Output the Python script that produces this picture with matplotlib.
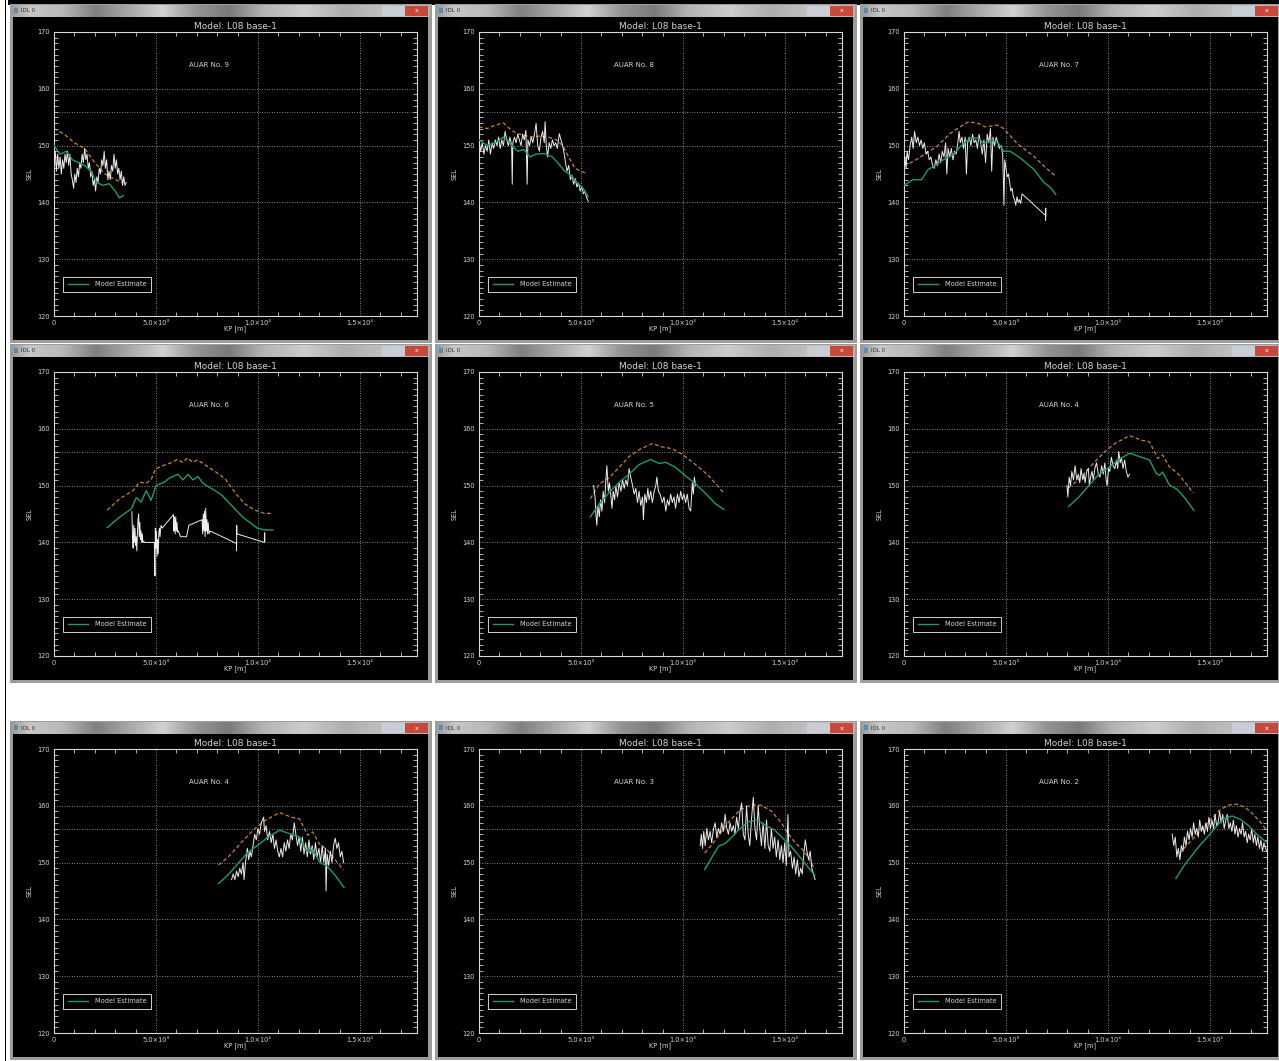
import matplotlib.pyplot as plt
import numpy as np
from matplotlib.patches import Rectangle
from matplotlib.lines import Line2D
from matplotlib.ticker import FixedLocator, FixedFormatter, MultipleLocator

W, H = 1279, 1061

TITLE = "Model: L08 base-1"
WINDOW_NAME = "IDL 0"
X_TICKS = [0, 5000, 10000, 15000]
X_TICK_LABELS = ["0", "5.0×10³", "1.0×10⁴", "1.5×10⁴"]
Y_TICKS = [120, 130, 140, 150, 160, 170]
X_MAX = 17800
REF_LEVEL = 156

# ---- AUAR No. 9 ----
a9_x = [0, 60, 120, 180, 240, 300, 360, 420, 480, 540, 600, 660, 720, 780, 840, 900, 960, 1020,
        1080, 1140, 1200, 1260, 1320, 1380, 1440, 1500, 1560, 1620, 1680, 1740, 1800, 1860, 1920,
        1980, 2040, 2100, 2160, 2220, 2280, 2340, 2400, 2460, 2520, 2580, 2640, 2700, 2760, 2820,
        2880, 2940, 3000, 3060, 3120, 3180, 3240, 3300, 3360, 3420, 3480, 3540]
a9_y = [147, 149, 145.5, 148.5, 146, 148, 145, 147.5, 146, 148.5, 147, 149, 146.5, 148.5, 145, 144,
        142.5, 145, 143.5, 146, 144.5, 147, 146, 148.5, 147, 149.5, 147.5, 148.5, 146, 147, 144.5,
        145.5, 143, 144, 142, 144.5, 143.5, 146, 145, 147.5, 146.5, 149, 146, 147.5, 144, 145.5,
        144, 146.5, 145.5, 148.5, 146, 147.5, 145, 146, 144, 145.5, 143, 144.5, 143, 143.5]
a9_gx = [0, 300, 600, 900, 1200, 1500, 1800, 2100, 2400, 2700, 3000, 3200, 3400]
a9_gy = [150, 148.5, 149, 147.5, 147, 146.5, 145.5, 143.5, 143, 143.3, 142, 140.8, 141.2]
a9_ox = [0, 500, 1000, 1500, 2000, 2500, 3000, 3400]
a9_oy = [153, 152, 150.5, 149.5, 147, 145, 144, 143.5]

# ---- AUAR No. 8 ----
a8_x = [0, 80, 160, 240, 320, 400, 480, 560, 640, 720, 800, 880, 960, 1040, 1120, 1200, 1280, 1360,
        1440, 1520, 1600, 1630, 1660, 1740, 1820, 1900, 1980, 2060, 2140, 2220, 2300, 2360, 2400,
        2480, 2560, 2640, 2720, 2800, 2880, 2960, 3040, 3120, 3200, 3240, 3300, 3360, 3440, 3520,
        3600, 3680, 3760, 3840, 3940, 4020, 4100, 4180, 4240, 4320, 4400, 4480, 4560, 4640, 4720,
        4800, 4880, 4960, 5040, 5120, 5200, 5280, 5360]
a8_y = [151, 149, 150.5, 148.5, 150, 149, 151, 148.5, 150.5, 149.5, 151, 150, 151.5, 149.5, 151, 150,
        152.5, 151, 150, 151.5, 150, 143.2, 150.5, 151.5, 150.5, 152, 151, 150, 152, 151, 152.7, 143.2,
        151, 150, 151.5, 150.5, 152, 153.9, 150, 149, 151.5, 152.5, 150.5, 154.2, 150, 148, 150.5,
        149.5, 151, 150, 150.5, 149.5, 152.1, 151, 150, 148.5, 147, 145.5, 146.5, 144, 144.8, 143.2,
        144.2, 142.7, 143.4, 142, 142.8, 141.5, 142, 140.8, 140.2]
a8_gx = [0, 400, 800, 1200, 1400, 1600, 1900, 2200, 2500, 2800, 3200, 3600, 3900, 4200, 4500, 4800,
         5100, 5350]
a8_gy = [151, 150, 150.5, 151.5, 151, 150, 149, 149.3, 148, 148.5, 148.6, 148, 146.8, 145.5, 144.8,
         143.5, 142.5, 141]
a8_ox = [0, 400, 800, 1200, 1500, 1800, 2200, 2600, 3000, 3400, 3800, 4100, 4400, 4700, 5000, 5200]
a8_oy = [153.3, 153, 153.6, 154, 153, 152.2, 151.8, 151.5, 151.7, 151.5, 151, 150, 148, 146, 145.5,
         145.2]

# ---- AUAR No. 7 ----
a7_x = [0, 50, 100, 150, 220, 300, 380, 450, 520, 600, 680, 760, 840, 920, 1000, 1080, 1160, 1240,
        1320, 1400, 1480, 1560, 1640, 1720, 1800, 1880, 1960, 2040, 2100, 2160, 2240, 2320, 2400,
        2480, 2560, 2640, 2700, 2760, 2840, 2920, 3000, 3060, 3120, 3200, 3280, 3360, 3440, 3520,
        3600, 3680, 3760, 3840, 3920, 4000, 4080, 4160, 4240, 4300, 4360, 4440, 4520, 4600, 4680,
        4760, 4840, 4900, 4940, 5000, 5060, 5120, 5180, 5240, 5300, 5360, 5420, 5480, 5540, 5600,
        5660, 5720, 5790, 6940, 6940, 6950, 6950]
a7_y = [146.5, 148, 146, 149, 147.5, 150, 151.5, 149.5, 152.5, 150.5, 151.5, 150, 151, 149.5, 150.5,
        148.5, 149, 147.5, 148, 146.5, 146, 147.5, 146.5, 148.5, 147, 149, 148, 150.5, 145, 149.5,
        148, 149.5, 147.5, 149, 148.5, 150.5, 152.5, 150.5, 151.5, 149.5, 151.5, 145, 150.5, 151.5,
        150, 152, 150.5, 151, 149.5, 152, 150.5, 148.5, 151, 147, 152, 150.5, 153, 145.5, 151.5, 150,
        151.5, 150.5, 149.5, 150, 148.5, 139.5, 147.5, 146, 144.5, 145, 143.5, 142, 142.5, 141, 140.5,
        139.5, 141, 140, 140.5, 139.8, 141.5, 137.7, 136.8, 139, 137.5]
a7_gx = [0, 440, 860, 1180, 1510, 1920, 2420, 2750, 3240, 3650, 3900, 4310, 4640, 4890, 5210, 5710,
         6370, 6860, 7190, 7440]
a7_gy = [143, 144, 144, 145.8, 146.4, 147.5, 148.4, 149.8, 151.3, 151.3, 150.4, 151, 150.4, 149, 149,
         147.8, 145.8, 143.5, 142.6, 141.4]
a7_ox = [0, 500, 1100, 1600, 2250, 2750, 3160, 3650, 3980, 4560, 4890, 5540, 6370, 6860, 7440]
a7_oy = [146.4, 147.3, 148.7, 149.8, 152.1, 153.3, 154.2, 153.9, 153.3, 153.6, 153, 150.4, 148.1,
         146.4, 144.6]

# ---- AUAR No. 6 ----
a6_x = [3820, 3850, 3880, 3910, 3940, 3970, 4000, 4030, 4060, 4090, 4120, 4150, 4180, 4210, 4240,
        4270, 4300, 4330, 4360, 4400, 4440, 4920, 4950, 4970, 4990, 5020, 5050, 5080, 5110, 5140,
        5170, 5200, 5230, 5260, 5300, 5860, 5880, 5910, 5940, 5970, 6000, 6030, 6060, 6100, 6150,
        6210, 6500, 6610, 7260, 7290, 7320, 7350, 7380, 7410, 7440, 7470, 7500, 7530, 7560, 7600,
        7660, 8950, 8950, 8960, 8970, 10320, 10330, 10340]
a6_y = [145.4, 141, 139, 143, 140, 142.5, 139.5, 141, 138.5, 141.5, 144, 145, 141, 143.5, 140.5, 142,
        140, 141.5, 140, 140.2, 140, 140, 134.1, 142.5, 139, 142, 137.5, 140.5, 138, 141.5, 142.5, 141,
        142.5, 143, 142.5, 144.9, 142, 144.5, 141.5, 144.5, 142, 143.5, 141.8, 142, 141.5, 141, 141,
        143, 144, 141.5, 145, 142, 145.5, 141, 146, 142, 144, 141.5, 143.5, 141.5, 142, 139.8, 138.5,
        143, 141.5, 140, 141.7, 140.2]
a6_gx = [2610, 3230, 3790, 4030, 4270, 4520, 4760, 5000, 5400, 5650, 6080, 6320, 6570, 6810, 7050,
         7340, 7900, 8230, 8710, 9270, 9970, 10320, 10730]
a6_gy = [142.6, 144.5, 145.9, 147.9, 147.1, 149.1, 147.4, 150, 150.6, 151.3, 152, 151, 152, 151,
         151.6, 150.3, 149.1, 148.3, 146.5, 144.4, 142.5, 142.2, 142.2]
a6_ox = [2610, 3230, 3870, 4190, 4500, 4760, 4970, 5320, 5730, 6050, 6290, 6570, 6780, 7050, 7340,
         7900, 8390, 8870, 9350, 9840, 10320, 10730]
a6_oy = [145.7, 147.7, 149.1, 150.6, 150.4, 151, 152.9, 153.5, 154, 154.6, 154.1, 154.9, 154.1,
         154.5, 153.8, 152.5, 151.2, 148.8, 146.8, 145.7, 145.1, 145.1]

# ---- AUAR No. 5 ----
a5_x = [5620, 5690, 5730, 5780, 5830, 5900, 5960, 6030, 6090, 6160, 6220, 6270, 6340, 6400, 6470,
        6520, 6580, 6650, 6710, 6790, 6870, 6960, 7040, 7120, 7200, 7280, 7360, 7440, 7530, 7610,
        7690, 7770, 7850, 7930, 8020, 8060, 8130, 8210, 8280, 8340, 8420, 8500, 8590, 8670, 8720,
        8800, 8880, 8990, 9070, 9160, 9240, 9320, 9400, 9480, 9560, 9640, 9730, 9810, 9890, 9970,
        10050, 10130, 10210, 10300, 10380, 10460, 10510, 10560, 10620]
a5_y = [150, 148, 145, 143, 146.5, 144.5, 147.5, 145.5, 149, 147, 151, 153.5, 149, 150.5, 148, 146,
        149, 147.5, 150, 148, 150.5, 149, 151, 149.5, 151, 150, 153, 151.5, 150, 148.5, 149.5, 147,
        149, 146.5, 148, 144, 148.5, 147, 149.5, 147.5, 149, 147, 149, 150, 151.5, 149, 148.5, 147,
        148, 145.5, 147.5, 146.5, 148.5, 147, 148, 146, 148.5, 147, 149, 147.5, 148.5, 147, 148.5,
        146, 145.5, 150.5, 148.5, 151.5, 150]
a5_gx = [5460, 5900, 6390, 6870, 7360, 7850, 8420, 8830, 9160, 9640, 10130, 10620, 11110, 11600,
         12000]
a5_gy = [144.5, 146.8, 148.8, 150.6, 152, 153.7, 154.6, 153.9, 154.1, 153.2, 151.7, 150.3, 148.6,
         146.8, 145.8]
a5_ox = [5460, 5900, 6390, 6870, 7360, 7850, 8500, 8990, 9480, 9970, 10620, 11270, 12000]
a5_oy = [147.7, 150.3, 151.4, 153.2, 155.1, 156.3, 157.4, 156.8, 156.5, 155.5, 153.7, 151.7, 148.7]

# ---- AUAR No. 4 (two runs share the model curves) ----
a4_gx = [8070, 8550, 9040, 9530, 10010, 10500, 11060, 11550, 12040, 12360, 12520, 12680, 13010,
         13410, 13820, 14220]
a4_gy = [146.3, 147.9, 149.9, 151.9, 153.1, 154.5, 155.7, 155.1, 154.5, 152.2, 151.8, 152.4, 150.1,
         149.3, 147.6, 145.6]
a4_ox = [8070, 8550, 9200, 9850, 10340, 11060, 11630, 12040, 12440, 12680, 13010, 13410, 14190]
a4_oy = [149.6, 151, 153.6, 156, 157.4, 158.8, 158, 157.7, 154.8, 155.4, 153.3, 152.2, 148.7]

a4a_x = [7990, 8035, 8100, 8165, 8230, 8310, 8390, 8470, 8550, 8620, 8680, 8765, 8830, 8880, 8960,
         9040, 9090, 9150, 9220, 9280, 9360, 9440, 9530, 9610, 9690, 9770, 9850, 9910, 9960, 10030,
         10090, 10170, 10250, 10340, 10420, 10480, 10530, 10600, 10660, 10740, 10820, 10900, 10980,
         11060]
a4a_y = [150, 148, 151.5, 150, 152.5, 151, 153.5, 151, 152, 150.5, 153, 151, 152, 150.5, 152.5, 153,
         150, 151.5, 152.5, 151, 153, 154, 152, 151.5, 153.5, 152, 154, 151, 150, 153, 152.5, 155,
         153.5, 153, 154.5, 153, 156, 154, 155, 153, 154.5, 152.5, 151.5, 152]

a4b_x = [8710, 8790, 8870, 8950, 9030, 9110, 9190, 9270, 9320, 9390, 9480, 9550, 9610, 9680, 9760,
         9840, 9920, 10000, 10080, 10160, 10280, 10320, 10400, 10480, 10570, 10650, 10730, 10810,
         10890, 10970, 11050, 11130, 11210, 11290, 11370, 11450, 11530, 11610, 11690, 11780, 11860,
         11940, 12020, 12100, 12180, 12260, 12340, 12420, 12500, 12580, 12660, 12740, 12820, 12900,
         12990, 13070, 13150, 13230, 13310, 13340, 13390, 13470, 13550, 13630, 13710, 13790, 13870,
         13950, 14040, 14120, 14200]
a4b_y = [147, 148, 147, 148.5, 147.5, 149, 148, 150, 147, 150, 152.5, 150.5, 152, 151, 153, 155, 154,
         156, 155, 157, 158, 155.5, 156.5, 154, 155.5, 153.5, 155, 152.5, 154, 152, 151, 152.5, 151,
         153.5, 152, 154, 152.5, 155, 154, 157, 155, 153, 154.5, 152, 154.5, 151.5, 153.5, 151, 154,
         151.5, 153, 150.5, 153.5, 151, 152.5, 150, 153, 150, 152.5, 145, 151.5, 149.5, 152, 150, 153,
         154.3, 152.5, 153.5, 151, 152, 150]

# ---- AUAR No. 3 ----
a3_x = [10850, 10900, 10960, 11020, 11090, 11170, 11250, 11330, 11410, 11500, 11580, 11660, 11740,
        11820, 11900, 11980, 12070, 12150, 12230, 12310, 12390, 12470, 12550, 12630, 12720, 12800,
        12880, 12960, 13040, 13120, 13200, 13280, 13370, 13450, 13530, 13610, 13690, 13770, 13850,
        13930, 14020, 14100, 14180, 14260, 14340, 14420, 14500, 14580, 14670, 14750, 14830, 14910,
        14990, 15070, 15150, 15200, 15280, 15370, 15450, 15530, 15610, 15690, 15770, 15850, 15940,
        16000, 16080, 16160, 16240, 16320, 16400, 16480]
a3_y = [153, 155, 152.5, 155.5, 153, 156, 154, 155.5, 153.5, 156, 157, 154.5, 156, 155, 157, 155.5,
        158.5, 156, 155, 157, 155.5, 156.5, 155, 158, 156, 159, 160.5, 155, 154, 160, 155, 153, 158,
        161.5, 156, 154, 160, 156, 153, 157, 152.5, 157.5, 153, 152, 156, 152.5, 154.5, 151, 154,
        150.5, 153, 150, 153.5, 149.5, 158.5, 151, 152, 149, 151, 148, 150.5, 147.5, 149, 148, 152,
        154, 152, 150.5, 152, 149, 148, 147]
a3_gx = [11070, 11430, 11750, 12080, 12400, 12800, 13210, 13620, 14020, 14510, 14920, 15320, 15730,
         16130, 16460]
a3_gy = [148.8, 151, 152.9, 153.4, 154.5, 156, 157.2, 157.5, 156.6, 155.7, 154.2, 152.8, 151, 149.2,
         147.8]
a3_ox = [11070, 11430, 11800, 12230, 12800, 13370, 13860, 14350, 14830, 15160, 15480, 15970, 16460]
a3_oy = [151.7, 153.2, 155, 157.1, 159.3, 160.2, 160.1, 159, 157, 155.1, 153.6, 151.9, 148.9]

# ---- AUAR No. 2 ----
a2_x = [13150, 13230, 13300, 13380, 13450, 13530, 13600, 13680, 13750, 13830, 13900, 13980, 14050,
        14130, 14200, 14280, 14350, 14430, 14500, 14580, 14650, 14730, 14800, 14880, 14950, 15030,
        15100, 15180, 15250, 15330, 15400, 15480, 15550, 15630, 15700, 15780, 15850, 15930, 16000,
        16080, 16150, 16230, 16300, 16380, 16450, 16530, 16600, 16680, 16750, 16830, 16900, 16980,
        17050, 17130, 17200, 17280, 17350, 17430, 17500, 17580, 17650, 17730, 17800]
a2_y = [155, 153, 154.5, 151, 152.5, 150.5, 153, 152, 154.5, 153, 155.5, 154, 156, 154.5, 157, 155,
        156, 154.5, 157.5, 155.5, 156.5, 155, 157, 155.5, 158, 156, 157.5, 156, 158.5, 156.5, 157,
        159, 157, 158.5, 156, 157.5, 158.5, 156, 157, 155.5, 157.5, 155, 156.5, 154.5, 156, 155,
        157, 154.5, 155.5, 153.5, 155, 154, 156, 153.5, 155, 153, 154.5, 152.5, 154, 152, 153.5,
        152.5, 152]
a2_gx = [13330, 13700, 14100, 14500, 14900, 15300, 15700, 16100, 16500, 16900, 17300, 17800]
a2_gy = [147.2, 149.3, 151.2, 153, 154.6, 156.3, 157.8, 158.2, 157.6, 156.5, 155, 153.5]
a2_ox = [13520, 13900, 14300, 14700, 15100, 15500, 15900, 16300, 16700, 17100, 17500, 17800]
a2_oy = [151.6, 153.2, 154.7, 156.3, 157.8, 159.3, 160.1, 160.3, 159.8, 158.6, 157, 155.6]

panels = [
    ("AUAR No. 9", a9_x, a9_y, a9_gx, a9_gy, a9_ox, a9_oy),
    ("AUAR No. 8", a8_x, a8_y, a8_gx, a8_gy, a8_ox, a8_oy),
    ("AUAR No. 7", a7_x, a7_y, a7_gx, a7_gy, a7_ox, a7_oy),
    ("AUAR No. 6", a6_x, a6_y, a6_gx, a6_gy, a6_ox, a6_oy),
    ("AUAR No. 5", a5_x, a5_y, a5_gx, a5_gy, a5_ox, a5_oy),
    ("AUAR No. 4", a4a_x, a4a_y, a4_gx, a4_gy, a4_ox, a4_oy),
    ("AUAR No. 4", a4b_x, a4b_y, a4_gx, a4_gy, a4_ox, a4_oy),
    ("AUAR No. 3", a3_x, a3_y, a3_gx, a3_gy, a3_ox, a3_oy),
    ("AUAR No. 2", a2_x, a2_y, a2_gx, a2_gy, a2_ox, a2_oy),
]

ROW_Y = [0, 340, 717]
COL_X = [10, 435, 860]
TXT = "#d4d4d4"
GREEN = "#1f9a6c"
ORANGE = "#c8862e"

fig = plt.figure(figsize=(W / 100, H / 100), dpi=100, facecolor="white")
bg = fig.add_axes([0, 0, 1, 1])
bg.axis("off")

# window chrome
bar_pos = [0, 0.04, 0.12, 0.2, 0.28, 0.36, 0.44, 0.52, 0.6, 0.7, 0.8, 0.9, 1.0]
bar_val = [0.62, 0.78, 0.72, 0.5, 0.66, 0.82, 0.58, 0.48, 0.7, 0.8, 0.68, 0.76, 0.7]
bar_grad = np.interp(np.linspace(0, 1, 200), bar_pos, bar_val)

bg.add_patch(Rectangle((8, 0), W - 8, 5, color="black", lw=0))
bg.add_patch(Rectangle((4.5, 0), 1.6, H, color="black", lw=0))

for i in range(9):
    ox = COL_X[i % 3]
    oy = ROW_Y[i // 3]
    bg.add_patch(Rectangle((ox, oy + 4), 422, 339, color="#9c9c9c", lw=0))
    bg.imshow(bar_grad[np.newaxis, :], cmap="gray", vmin=0, vmax=1, aspect="auto",
              extent=(ox + 2, ox + 420, oy + 17, oy + 5), zorder=2)
    bg.add_patch(Rectangle((ox + 3, oy + 17), 415, 323, color="black", lw=0, zorder=3))
    bg.add_patch(Rectangle((ox + 372, oy + 6), 23, 10, color="#c9ced6", lw=0, zorder=3))
    bg.add_patch(Rectangle((ox + 395, oy + 6), 23, 10, color="#c8483c", lw=0, zorder=3))
    bg.add_patch(Rectangle((ox + 4, oy + 8), 4, 5, color="#5a8ab0", lw=0, zorder=3))
    bg.text(ox + 11, oy + 11, WINDOW_NAME, fontsize=4, color="#333333", va="center", zorder=4)
    bg.text(ox + 407, oy + 11, "x", fontsize=4.5, color="white", ha="center", va="center", zorder=4)

bg.set_xlim(0, W)
bg.set_ylim(H, 0)

legend_handle = Line2D([], [], color=GREEN, lw=1)

for i, (name, x, y, gx, gy, ox_, oy_) in enumerate(panels):
    px = COL_X[i % 3] + 44
    py = ROW_Y[i // 3] + 32
    ax = fig.add_axes([px / W, 1 - (py + 284) / H, 363 / W, 284 / H])
    ax.set_facecolor("black")
    ax.plot(ox_, oy_, color=ORANGE, lw=0.9, dashes=(3, 2), zorder=2)
    ax.plot(x, y, color="#ececec", lw=0.7, zorder=3)
    ax.plot(gx, gy, color=GREEN, lw=1.0, zorder=4)
    ax.axhline(REF_LEVEL, color="#b0b0b0", lw=0.6, ls=(0, (1, 2)), zorder=1)

    ax.set_xlim(0, X_MAX)
    ax.set_ylim(Y_TICKS[0], Y_TICKS[-1])
    ax.xaxis.set_major_locator(FixedLocator(X_TICKS))
    ax.xaxis.set_major_formatter(FixedFormatter(X_TICK_LABELS))
    ax.xaxis.set_minor_locator(MultipleLocator(1000))
    ax.yaxis.set_major_locator(FixedLocator(Y_TICKS))
    ax.yaxis.set_minor_locator(MultipleLocator(1))
    ax.grid(True, which="major", color="#b0b0b0", lw=0.6, ls=(0, (1, 2)))
    ax.tick_params(which="both", direction="in", top=True, right=True, colors="#d0d0d0",
                   labelcolor=TXT, labelsize=4.8)
    ax.tick_params(which="major", length=0, pad=3)
    ax.tick_params(which="minor", length=3, width=0.6)
    for s in ax.spines.values():
        s.set_color("#d8d8d8")
        s.set_linewidth(0.8)

    ax.set_title(TITLE, fontsize=6.5, color=TXT, pad=2.5)
    ax.set_xlabel("KP [m]", fontsize=4.8, color=TXT, labelpad=-0.5)
    ax.set_ylabel("SEL", fontsize=4.8, color=TXT, labelpad=3)
    ax.text(7600, 164.2, name, fontsize=5, color=TXT, ha="center", va="center")

    leg = ax.legend([legend_handle], ["Model Estimate"], loc="lower left",
                    bbox_to_anchor=(0.025, 0.085), borderaxespad=0, fontsize=4.8,
                    labelcolor=TXT, facecolor="black", edgecolor="#d0d0d0", fancybox=False,
                    framealpha=1, handlelength=3, handletextpad=1.1, borderpad=0.7)
    leg.get_frame().set_linewidth(0.7)

fig.savefig("out.png", dpi=100, facecolor="white")
